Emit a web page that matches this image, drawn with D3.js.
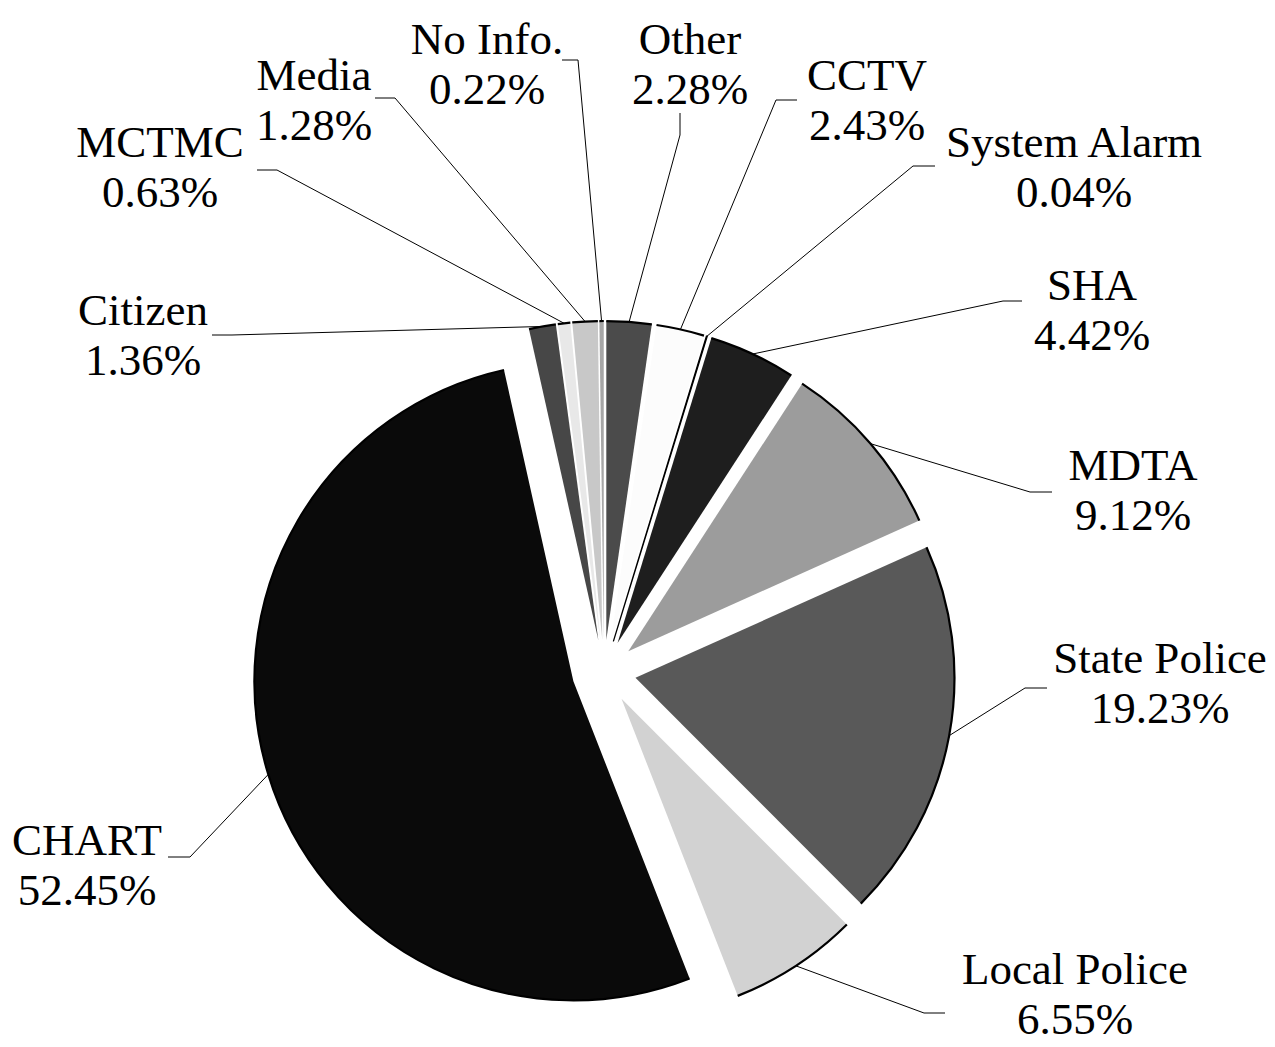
<!DOCTYPE html>
<html><head><meta charset="utf-8">
<script src="https://cdn.jsdelivr.net/npm/d3@7"></script>
<style>body{margin:0;background:#fff}svg{display:block}</style>
</head><body><svg id="chart" width="1275" height="1047"></svg>
<script>
// ---- data ----
const categories = ["Other","CCTV","System Alarm","SHA","MDTA","State Police","Local Police","CHART","Citizen","MCTMC","Media","No Info."];
const values = [2.28,2.43,0.04,4.42,9.12,19.23,6.55,52.45,1.36,0.63,1.28,0.22];

// ---- style ----
const fills = ["#4b4b4b","#fcfcfc","#000000","#1e1e1e","#9c9c9c","#595959","#d2d2d2","#0a0a0a","#474747","#e8e8e8","#c8c8c8","#a6a6a6"];

// ---- layout ----
const W = 1275, H = 1047;
const cx = 604, cy = 672, R = 319, explode = 32;
const fontSize = 45, lineGap = 50;
// label centre x, baseline of first line, leader: [label end], [elbow]
const labelLayout = {
  "Other":        {x:690,  y:54,  end:[680,113],  elbow:[680,135]},
  "CCTV":         {x:867,  y:90,  end:[797,100],  elbow:[776,100]},
  "System Alarm": {x:1074, y:157, end:[935,166],  elbow:[913,166]},
  "SHA":          {x:1092, y:300, end:[1022,301], elbow:[1003,301]},
  "MDTA":         {x:1133, y:480, end:[1052,492], elbow:[1030,492]},
  "State Police": {x:1160, y:673, end:[1047,688], elbow:[1025,688]},
  "Local Police": {x:1075, y:984, end:[945,1013], elbow:[924,1013]},
  "CHART":        {x:87,   y:855, end:[168,857],  elbow:[190,857]},
  "Citizen":      {x:143,  y:325, end:[212,335],  elbow:[232,335]},
  "MCTMC":        {x:160,  y:157, end:[257,170],  elbow:[277,170]},
  "Media":        {x:314,  y:90,  end:[375,98],   elbow:[395,98]},
  "No Info.":     {x:487,  y:54,  end:[562,60],   elbow:[578,60]}
};

const fmt = v => d3.format(".2f")(v) + "%";
const svg = d3.select("#chart");
svg.append("rect").attr("width", W).attr("height", H).attr("fill", "#fff");

const data = categories.map((c, i) => ({cat: c, value: values[i], fill: fills[i]}));
const pie = d3.pie().sort(null).value(d => d.value).startAngle(0).endAngle(2 * Math.PI);
const arcs = pie(data);
const arcGen = d3.arc().innerRadius(0).outerRadius(R);

const g = svg.append("g").attr("transform", `translate(${cx},${cy})`);
const slices = g.selectAll("g.slice").data(arcs).join("g")
  .attr("class", "slice")
  .attr("transform", d => {
    const b = (d.startAngle + d.endAngle) / 2;
    return `translate(${explode * Math.sin(b)},${-explode * Math.cos(b)})`;
  });

slices.append("path")
  .attr("d", arcGen)
  .attr("fill", d => d.data.fill)
  .attr("stroke", d => d.data.cat === "System Alarm" ? "#000" : "none")
  .attr("stroke-width", d => d.data.cat === "System Alarm" ? 1.3 : 0);

// outer arc outline
slices.append("path")
  .attr("d", d => {
    const p = d3.path();
    const a0 = d.startAngle - Math.PI / 2, a1 = d.endAngle - Math.PI / 2;
    p.moveTo(R * Math.cos(a0), R * Math.sin(a0));
    p.arc(0, 0, R, a0, a1);
    return p.toString();
  })
  .attr("fill", "none").attr("stroke", "#000").attr("stroke-width", 2.2);

// leaders
const leaders = svg.append("g");
arcs.forEach(d => {
  const L = labelLayout[d.data.cat];
  const b = (d.startAngle + d.endAngle) / 2;
  const px = cx + (R + explode) * Math.sin(b), py = cy - (R + explode) * Math.cos(b);
  leaders.append("path")
    .attr("d", d3.line()([[px, py], L.elbow, L.end]))
    .attr("fill", "none").attr("stroke", "#000").attr("stroke-width", 1);
});

// labels
const labels = svg.append("g")
  .attr("font-family", "'Liberation Serif','Times New Roman',serif")
  .attr("font-size", fontSize).attr("fill", "#000").attr("text-anchor", "middle");
arcs.forEach(d => {
  const L = labelLayout[d.data.cat];
  const t = labels.append("text").attr("x", L.x).attr("y", L.y);
  t.append("tspan").attr("x", L.x).attr("y", L.y).text(d.data.cat);
  t.append("tspan").attr("x", L.x).attr("y", L.y + lineGap).text(fmt(d.data.value));
});
</script></body></html>
